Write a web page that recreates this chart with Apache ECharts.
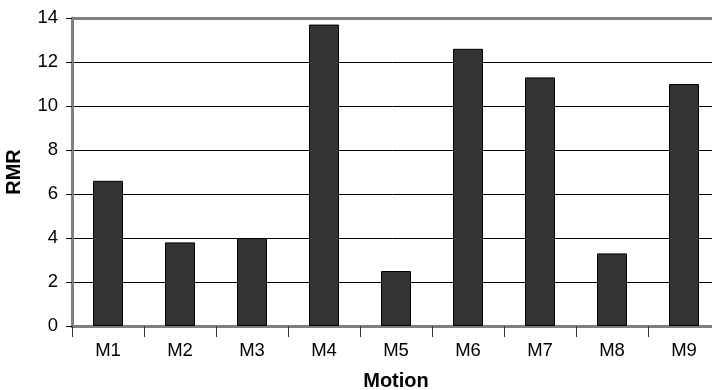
<!DOCTYPE html>
<html>
<head>
<meta charset="utf-8">
<script src="https://cdn.jsdelivr.net/npm/echarts@6/dist/echarts.min.js"></script>
<style>
  html, body { margin: 0; padding: 0; background: #fff; }
  #chart { width: 712px; height: 390px; }
</style>
</head>
<body>
<div id="chart"></div>
<script>
// Resting metabolic rate per motion
const categories = ['M1', 'M2', 'M3', 'M4', 'M5', 'M6', 'M7', 'M8', 'M9'];
const rmrValues = [6.6, 3.8, 4.0, 13.7, 2.5, 12.6, 11.3, 3.3, 11.0];
const yTicks = [0, 2, 4, 6, 8, 10, 12, 14];

const chart = echarts.init(document.getElementById('chart'));
const font = 'Liberation Sans, Arial, sans-serif';
const yMax = yTicks[yTicks.length - 1];

chart.setOption({
  animation: false,
  grid: {
    left: 72, top: 18, width: 648, height: 308,
    containLabel: false, outerBoundsMode: 'none'
  },
  xAxis: {
    type: 'category',
    data: categories,
    name: 'Motion',
    nameLocation: 'middle',
    nameGap: 45,
    nameTextStyle: { fontFamily: font, fontSize: 20, fontWeight: 'bold', color: '#000' },
    axisLine: { lineStyle: { color: '#808080', width: 3 } },
    axisTick: { show: true, inside: false, length: 11, lineStyle: { color: '#333', width: 1 } },
    axisLabel: { fontFamily: font, fontSize: 18.5, color: '#000', margin: 15 }
  },
  yAxis: {
    type: 'value',
    min: yTicks[0],
    max: yMax,
    interval: 2,
    name: 'RMR',
    nameLocation: 'middle',
    nameGap: 48,
    nameRotate: 90,
    nameTextStyle: { fontFamily: font, fontSize: 20, fontWeight: 'bold', color: '#000' },
    axisLine: { show: true, lineStyle: { color: '#808080', width: 3 } },
    axisTick: { show: true, inside: false, length: 6, lineStyle: { color: '#000', width: 1 } },
    axisLabel: { fontFamily: font, fontSize: 18.5, color: '#000', margin: 14 },
    splitLine: { show: true, lineStyle: { color: '#000', width: 1 } }
  },
  series: [{
    type: 'bar',
    data: rmrValues,
    barWidth: 30,
    itemStyle: { color: '#333333', borderColor: '#000', borderWidth: 1 },
    // grey frame line along the top of the plot area
    markLine: {
      silent: true,
      symbol: 'none',
      label: { show: false },
      lineStyle: { color: '#808080', width: 3, type: 'solid' },
      data: [{ yAxis: yMax }]
    }
  }]
});
</script>
</body>
</html>
